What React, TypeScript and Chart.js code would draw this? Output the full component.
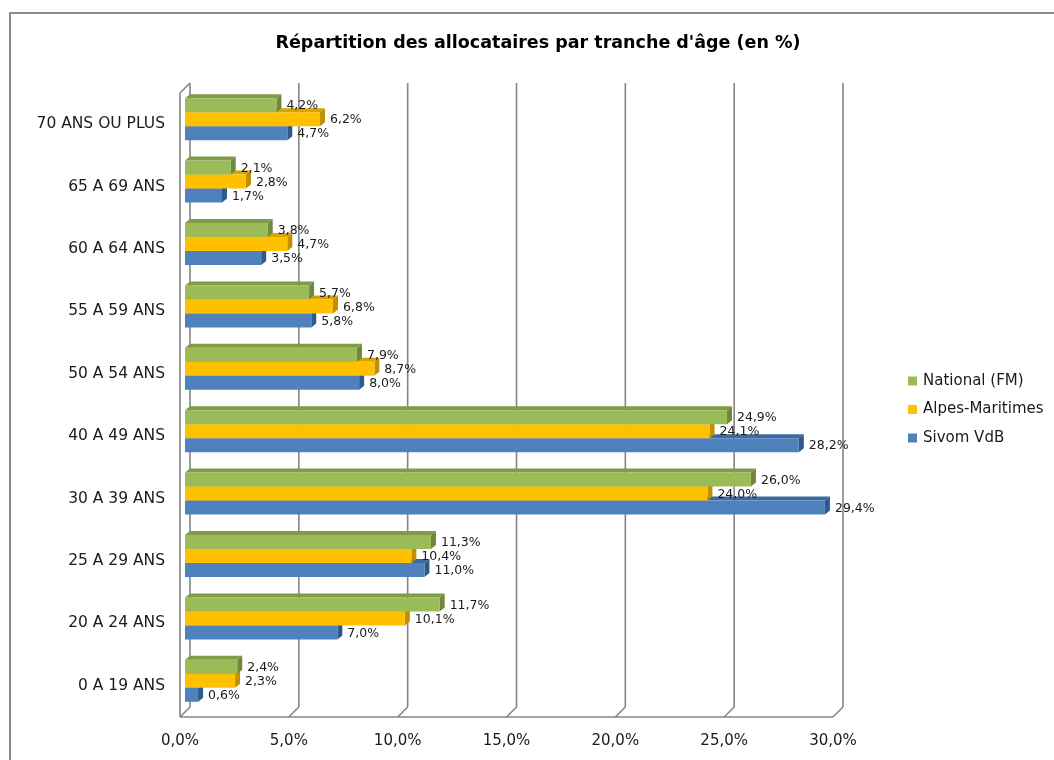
import React, { useEffect, useRef } from "react";
import { Chart, registerables } from "chart.js";

Chart.register(...registerables);

// ---- data (top to bottom as displayed) ----
const categories = [
  "70 ANS OU PLUS",
  "65 A 69 ANS",
  "60 A 64 ANS",
  "55 A 59 ANS",
  "50 A 54 ANS",
  "40 A 49 ANS",
  "30 A 39 ANS",
  "25 A 29 ANS",
  "20 A 24 ANS",
  "0 A 19 ANS",
];
const seriesNames = ["National (FM)", "Alpes-Maritimes", "Sivom VdB"];
const national = [4.2, 2.1, 3.8, 5.7, 7.9, 24.9, 26.0, 11.3, 11.7, 2.4];
const alpesMaritimes = [6.2, 2.8, 4.7, 6.8, 8.7, 24.1, 24.0, 10.4, 10.1, 2.3];
const sivomVdB = [4.7, 1.7, 3.5, 5.8, 8.0, 28.2, 29.4, 11.0, 7.0, 0.6];
const xTickValues = [0, 5, 10, 15, 20, 25, 30];
const chartTitle = "Répartition des allocataires par tranche d'âge (en %)";

// ---- styles ----
const FONT = "'DejaVu Sans', sans-serif";
const faces = [
  { front: "#9BBB59", top: "#7F9B45", side: "#6F883B" },
  { front: "#FFC000", top: "#D9A300", side: "#BF9000" },
  { front: "#4F81BD", top: "#3D6A9F", side: "#2F5A8C" },
];
const fmt = (v: number) => v.toFixed(1).replace(".", ",") + "%";

const D = 5; // wall depth offset
const BDX = 5; // bar depth x
const BDY = 4; // bar depth y

const framePlugin = {
  id: "frame",
  beforeDraw(chart: any) {
    const { ctx, width, height } = chart;
    ctx.save();
    ctx.fillStyle = "#ffffff";
    ctx.fillRect(0, 0, width, height);
    ctx.strokeStyle = "#8c8c8c";
    ctx.lineWidth = 2;
    ctx.beginPath();
    ctx.moveTo(10, height);
    ctx.lineTo(10, 13);
    ctx.lineTo(width, 13);
    ctx.stroke();
    // title
    ctx.fillStyle = "#000000";
    ctx.font = `bold 17.5px ${FONT}`;
    ctx.textAlign = "center";
    ctx.textBaseline = "middle";
    ctx.fillText(chartTitle, 538, 43);
    ctx.restore();
  },
};

const wallsPlugin = {
  id: "walls",
  beforeDatasetsDraw(chart: any) {
    const { ctx, chartArea: a } = chart;
    const x = chart.scales.x;
    const line = (x1: number, y1: number, x2: number, y2: number) => {
      ctx.beginPath();
      ctx.moveTo(x1, y1);
      ctx.lineTo(x2, y2);
      ctx.stroke();
    };
    ctx.save();
    ctx.strokeStyle = "#858585";
    ctx.lineWidth = 1.6;
    const x0 = x.getPixelForValue(xTickValues[0]);
    const xMax = x.getPixelForValue(xTickValues[xTickValues.length - 1]);
    // left wall
    line(x0 + D, a.top - D, x0 + D, a.bottom - D);
    line(x0 - D, a.top + D, x0 - D, a.bottom + D);
    line(x0 - D, a.top + D, x0 + D, a.top - D);
    line(x0 - D, a.bottom + D, x0 + D, a.bottom - D);
    // floor front edge
    line(x0 - D, a.bottom + D, xMax - D, a.bottom + D);
    // back wall gridlines + floor diagonals
    xTickValues.forEach((v) => {
      if (v === xTickValues[0]) return;
      const px = x.getPixelForValue(v);
      line(px + D, a.top - D, px + D, a.bottom - D);
      line(px - D, a.bottom + D, px + D, a.bottom - D);
    });
    ctx.restore();

    // 3D faces of bars (drawn before the front faces)
    ctx.save();
    for (let di = chart.data.datasets.length - 1; di >= 0; di--) {
      const meta = chart.getDatasetMeta(di);
      const f = faces[di];
      meta.data.forEach((el: any) => {
        const p = el.getProps(["x", "y", "base", "height"], true);
        const y0 = p.y - p.height / 2;
        const y1 = p.y + p.height / 2;
        ctx.fillStyle = f.top;
        ctx.beginPath();
        ctx.moveTo(p.base, y0);
        ctx.lineTo(p.base + BDX, y0 - BDY);
        ctx.lineTo(p.x + BDX, y0 - BDY);
        ctx.lineTo(p.x, y0);
        ctx.closePath();
        ctx.fill();
        ctx.fillStyle = f.side;
        ctx.beginPath();
        ctx.moveTo(p.x, y0);
        ctx.lineTo(p.x + BDX, y0 - BDY);
        ctx.lineTo(p.x + BDX, y1 - BDY);
        ctx.lineTo(p.x, y1);
        ctx.closePath();
        ctx.fill();
      });
    }
    ctx.restore();
  },
};

const labelsPlugin = {
  id: "valueLabels",
  afterDatasetsDraw(chart: any) {
    const { ctx } = chart;
    ctx.save();
    ctx.font = `12.5px ${FONT}`;
    ctx.fillStyle = "#1a1a1a";
    ctx.textAlign = "left";
    ctx.textBaseline = "middle";
    chart.data.datasets.forEach((ds: any, di: number) => {
      const meta = chart.getDatasetMeta(di);
      meta.data.forEach((el: any, i: number) => {
        const p = el.getProps(["x", "y"], true);
        ctx.fillText(fmt(ds.data[i]), p.x + 10, p.y + 1);
      });
    });
    ctx.restore();
  },
};

const legendPlugin = {
  id: "customLegend",
  afterDraw(chart: any) {
    const { ctx } = chart;
    ctx.save();
    ctx.font = `15px ${FONT}`;
    ctx.textAlign = "left";
    ctx.textBaseline = "middle";
    chart.data.datasets.forEach((ds: any, i: number) => {
      const cy = 381 + i * 28.5;
      ctx.fillStyle = ds.backgroundColor;
      ctx.fillRect(908, cy - 4.5, 9, 9);
      ctx.fillStyle = "#1a1a1a";
      ctx.fillText(ds.label, 923, cy);
    });
    ctx.restore();
  },
};

export default function App() {
  const ref = useRef<HTMLCanvasElement | null>(null);
  useEffect(() => {
    if (!ref.current) return;
    const series = [national, alpesMaritimes, sivomVdB];
    const chart = new Chart(ref.current, {
      type: "bar",
      data: {
        labels: categories,
        datasets: series.map((d, i) => ({
          label: seriesNames[i],
          data: d,
          backgroundColor: faces[i].front,
          borderWidth: 0,
          categoryPercentage: 0.673,
          barPercentage: 1,
        })),
      },
      options: {
        indexAxis: "y",
        animation: false,
        responsive: false,
        layout: { padding: { left: 0, top: 88, right: 216, bottom: 0 } },
        plugins: {
          legend: { display: false },
          title: { display: false },
          tooltip: { enabled: false },
        },
        scales: {
          x: {
            type: "linear",
            min: xTickValues[0],
            max: xTickValues[xTickValues.length - 1],
            grid: { display: false, drawTicks: false },
            border: { display: false },
            afterBuildTicks: (scale: any) => {
              scale.ticks = xTickValues.map((v) => ({ value: v }));
            },
            afterFit: (scale: any) => {
              scale.height = 48;
            },
            ticks: {
              callback: (v: any) => fmt(Number(v)),
              font: { family: FONT, size: 15 },
              color: "#1a1a1a",
              padding: 20,
              labelOffset: -D,
              maxRotation: 0,
              autoSkip: false,
            },
          },
          y: {
            type: "category",
            grid: { display: false, drawTicks: false },
            border: { display: false },
            afterFit: (scale: any) => {
              scale.width = 185;
            },
            ticks: {
              font: { family: FONT, size: 15.5 },
              color: "#1a1a1a",
              padding: 20,
              labelOffset: 5,
              autoSkip: false,
            },
          },
        },
      },
      plugins: [framePlugin, wallsPlugin, labelsPlugin, legendPlugin],
    } as any);
    return () => chart.destroy();
  }, []);

  return (
    <div style={{ position: "absolute", left: 0, top: 0, width: 1054, height: 760 }}>
      <canvas ref={ref} width={1054} height={760} style={{ width: 1054, height: 760, display: "block" }} />
    </div>
  );
}
